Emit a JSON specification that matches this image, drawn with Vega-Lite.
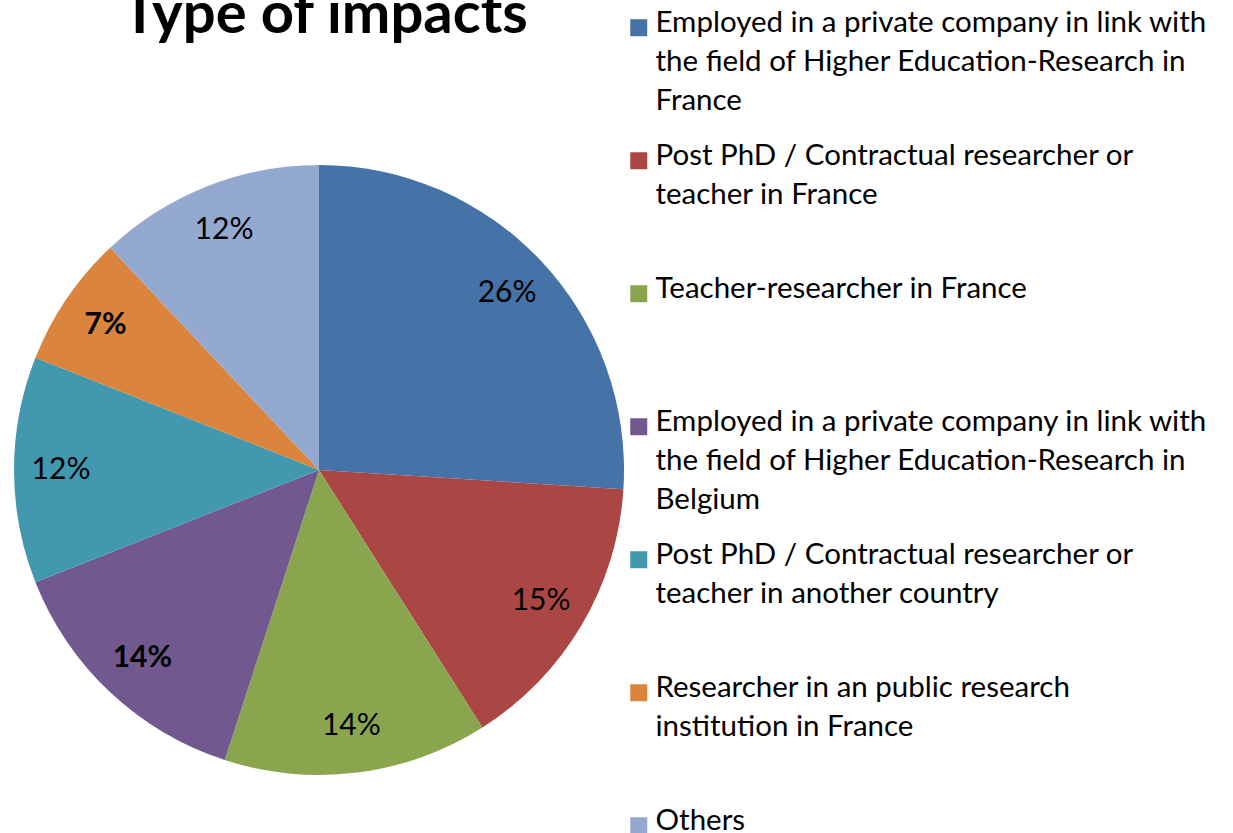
{
  "$schema": "https://vega.github.io/schema/vega-lite/v6.json",
  "width": 610,
  "height": 610,
  "autosize": {"type": "none"},
  "padding": {"left": 14, "top": 165, "right": 609, "bottom": 58},
  "background": "white",
  "title": {
    "text": "Type of impacts",
    "font": "Lato",
    "fontSize": 58,
    "fontWeight": "bold",
    "color": "black",
    "anchor": "middle",
    "dx": 6,
    "offset": -32
  },
  "config": {
    "view": {"stroke": null},
    "style": {"guide-label": {"lineHeight": 39, "dy": 4}}
  },
  "data": {
    "values": [
      {"rank": 1, "cat": "Employed in a private company in link with\nthe field of Higher Education-Research in\nFrance", "value": 0.26},
      {"rank": 2, "cat": "Post PhD / Contractual researcher or\nteacher in France", "value": 0.15},
      {"rank": 3, "cat": "Teacher-researcher in France", "value": 0.14},
      {"rank": 4, "cat": "Employed in a private company in link with\nthe field of Higher Education-Research in\nBelgium", "value": 0.14},
      {"rank": 5, "cat": "Post PhD / Contractual researcher or\nteacher in another country", "value": 0.12},
      {"rank": 6, "cat": "Researcher in an public research\ninstitution in France", "value": 0.07},
      {"rank": 7, "cat": "Others", "value": 0.12}
    ]
  },
  "encoding": {
    "theta": {"field": "value", "type": "quantitative", "stack": true},
    "order": {"field": "rank", "type": "quantitative"}
  },
  "layer": [
    {
      "mark": {"type": "arc"},
      "encoding": {
        "color": {
          "field": "cat",
          "type": "nominal",
          "sort": null,
          "scale": {
            "domain": [
              "Employed in a private company in link with\nthe field of Higher Education-Research in\nFrance",
              "Post PhD / Contractual researcher or\nteacher in France",
              "Teacher-researcher in France",
              "Employed in a private company in link with\nthe field of Higher Education-Research in\nBelgium",
              "Post PhD / Contractual researcher or\nteacher in another country",
              "Researcher in an public research\ninstitution in France",
              "Others"
            ],
            "range": ["#4572A7", "#AA4643", "#89A54E", "#71588F", "#4198AF", "#DB843D", "#93A9CF"]
          },
          "legend": {
            "title": null,
            "orient": "none",
            "legendX": 610,
            "legendY": -152,
            "symbolType": "square",
            "symbolSize": 289,
            "symbolStrokeWidth": 0,
            "symbolOpacity": 1,
            "labelFont": "Lato",
            "labelFontSize": 29.5,
            "labelColor": "black",
            "labelBaseline": "alphabetic",
            "labelLimit": 0,
            "labelOffset": 2,
            "labelExpr": "split(datum.label, '\\n')",
            "gridAlign": "all",
            "rowPadding": 24,
            "padding": 0
          }
        }
      }
    },
    {
      "mark": {"type": "text", "radius": 258, "font": "Lato", "fontSize": 30},
      "encoding": {
        "color": {"value": "black"},
        "text": {
          "condition": {"test": "datum.rank != 4 && datum.rank != 6", "field": "value", "type": "quantitative", "format": ".0%"},
          "value": ""
        }
      }
    },
    {
      "mark": {"type": "text", "radius": 258, "font": "Lato", "fontSize": 30, "fontWeight": "bold"},
      "encoding": {
        "color": {"value": "black"},
        "text": {
          "condition": {"test": "datum.rank == 4 || datum.rank == 6", "field": "value", "type": "quantitative", "format": ".0%"},
          "value": ""
        }
      }
    }
  ]
}
